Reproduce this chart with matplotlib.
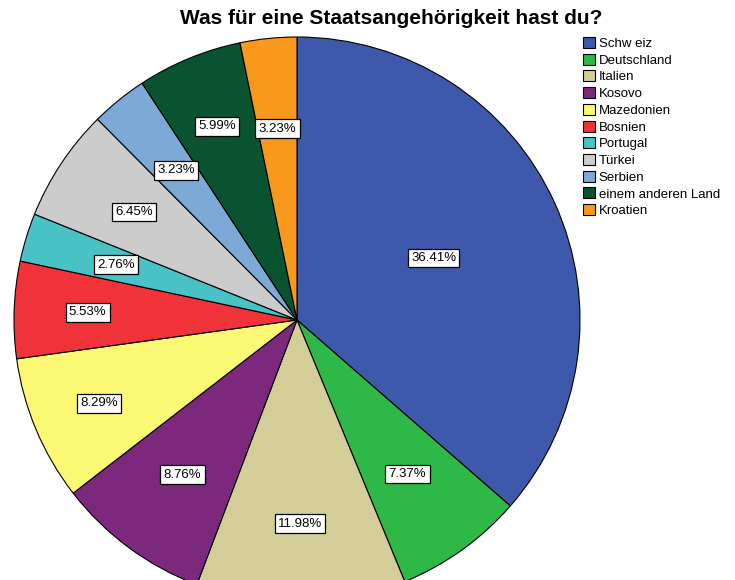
import numpy as np
import matplotlib.pyplot as plt

plt.rcParams['font.family'] = ['Liberation Sans', 'DejaVu Sans']

# data
countries = ["Schw eiz", "Deutschland", "Italien", "Kosovo", "Mazedonien",
             "Bosnien", "Portugal", "Türkei", "Serbien", "einem anderen Land",
             "Kroatien"]
percent = [36.41, 7.37, 11.98, 8.76, 8.29, 5.53, 2.76, 6.45, 3.23, 5.99, 3.23]
colors = ["#3E58AC", "#2EB848", "#D3CE97", "#7B287D", "#FBF873", "#EF3338",
          "#48C2C5", "#CCCCCC", "#7AAAD5", "#0A5330", "#F8981D"]

# label distance from centre (fraction of radius)
label_dist = [0.53, 0.67, 0.72, 0.68, 0.76, 0.74, 0.67, 0.69, 0.68, 0.74, 0.68]

fig = plt.figure(figsize=(7.35, 5.8), dpi=100)
ax = fig.add_axes([0, 0, 1, 1])

wedges, _ = ax.pie(
    percent,
    colors=colors,
    startangle=90,
    counterclock=False,
    radius=1,
    center=(0, 0),
    wedgeprops=dict(edgecolor="black", linewidth=0.8),
)

# percentage boxes
for w, d, p in zip(wedges, label_dist, percent):
    ang = np.deg2rad((w.theta1 + w.theta2) / 2)
    ax.text(d * np.cos(ang), d * np.sin(ang), f"{p:.2f}%",
            ha="center", va="center", fontsize=9.5,
            bbox=dict(boxstyle="square,pad=0.25", facecolor="white",
                      edgecolor="black", linewidth=0.9))

# map pixels: centre at (297, 320), radius 283 px
r_px = 283.0
ax.set_xlim(-297 / r_px, (735 - 297) / r_px)
ax.set_ylim(-(580 - 320) / r_px, 320 / r_px)
ax.set_aspect("auto")
ax.axis("off")

fig.text(391 / 735, 1 - 18 / 580, "Was für eine Staatsangehörigkeit hast du?",
         ha="center", va="center", fontsize=15, fontweight="bold")

leg = fig.legend(wedges, countries, loc="upper left",
                 bbox_to_anchor=(583 / 735, 1 - 37 / 580),
                 frameon=False, fontsize=9.5, handlelength=0.9,
                 handleheight=0.9, handletextpad=0.3, labelspacing=0.28,
                 borderaxespad=0, borderpad=0)

plt.savefig("out.png", dpi=100)
plt.close()
